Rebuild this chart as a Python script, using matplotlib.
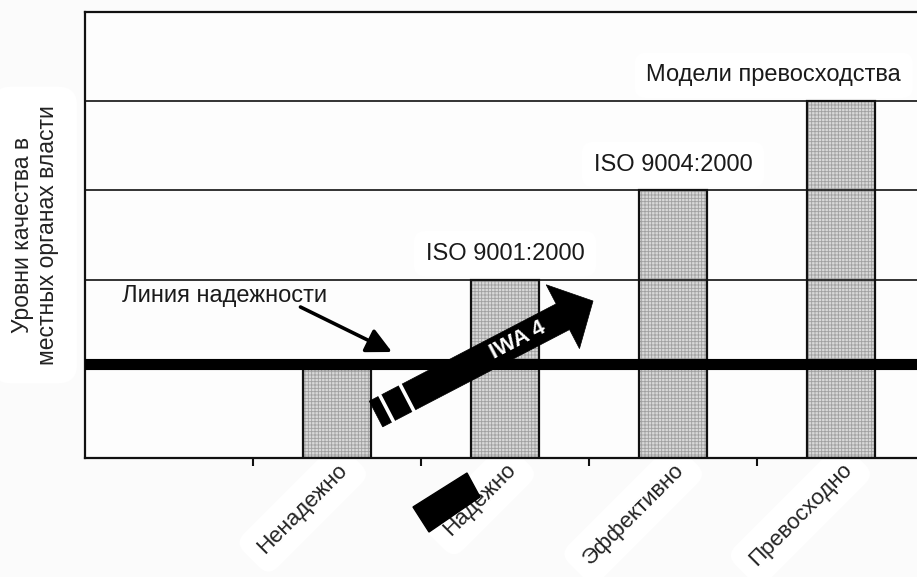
import numpy as np
import matplotlib
matplotlib.use('Agg')
import matplotlib.pyplot as plt
from matplotlib.patches import Polygon
from matplotlib.transforms import Affine2D

# data
categories = ['Ненадежно', 'Надежно', 'Эффективно', 'Превосходно']
levels = [1, 2, 3, 4]
level_labels = ['', 'ISO 9001:2000', 'ISO 9004:2000', 'Модели превосходства']
reliability_level = 1.05
y_max = 5
ylabel = 'Уровни качества в\nместных органах власти'

plt.rcParams['font.family'] = ['Liberation Sans', 'DejaVu Sans']
plt.rcParams['hatch.linewidth'] = 0.6

W, H = 917, 577
fig = plt.figure(figsize=(W / 100, H / 100), dpi=100, facecolor='#fbfbfb')
ax = fig.add_axes([85 / W, (H - 458) / H, 840 / W, 446 / H])
ax.set_facecolor('#fdfdfd')

# pixel coords from top-left, for the decorations
pix = Affine2D().scale(1 / 100, -1 / 100).translate(0, H / 100) + fig.dpi_scale_trans

blob = dict(boxstyle='round,pad=0.6', fc='white', ec='none')

x = np.arange(1, len(categories) + 1)
bar_w = 0.41
ax.bar(x, levels, width=bar_w, color='#d8d8d8', edgecolor='#a0a0a0', hatch='+++++',
       linewidth=0, zorder=2)
ax.bar(x, levels, width=bar_w, fill=False, edgecolor='#111111', linewidth=1.6, zorder=3)

# horizontal level lines
for yv in range(1, y_max):
    ax.axhline(yv, color='#111111', linewidth=1.2, zorder=3)

# reliability line
ax.axhline(reliability_level, color='black', linewidth=8, zorder=4)

ax.set_xlim(-0.5, len(categories) + 0.5)
ax.set_ylim(0, y_max)
ax.set_yticks([])
ax.set_xticks(np.arange(len(categories)) + 0.5)
ax.set_xticklabels([])
ax.tick_params(axis='x', which='major', direction='out', length=6, width=1.5, color='#111111')
ax.set_xticks(x, minor=True)
ax.set_xticklabels(categories, minor=True, fontsize=16, color='#222222')
ax.tick_params(axis='x', which='minor', length=0, pad=1)
for lab in ax.get_xticklabels(minor=True):
    lab.set_rotation(45)
    lab.set_ha('right')
    lab.set_rotation_mode('anchor')
    lab.set_bbox(blob)

for sp in ax.spines.values():
    sp.set_linewidth(1.6)
    sp.set_color('#111111')
ax.spines['right'].set_visible(False)

ax.set_ylabel(ylabel, fontsize=16.5, color='#222222', labelpad=19, linespacing=1.1,
              bbox=dict(boxstyle='round,pad=0.8', fc='white', ec='none'))

# level labels above bars
for xi, yv, txt in zip(x, levels, level_labels):
    if not txt:
        continue
    xt = xi if xi < len(categories) else xi - 0.4
    ax.text(xt, yv + 0.29, txt, ha='center', va='center', fontsize=17, color='#1a1a1a',
            zorder=5, bbox=dict(boxstyle='round,pad=0.5', fc='white', ec='none'))

# reliability line label and arrow
ax.annotate('Линия надежности', xy=(392, 352), xycoords=pix,
            xytext=(122, 296), textcoords=pix, ha='left', va='center',
            fontsize=17, color='#1a1a1a', zorder=6,
            arrowprops=dict(arrowstyle='-|>,head_length=0.9,head_width=0.45', lw=2.6,
                            color='black', shrinkA=0, shrinkB=0,
                            relpos=(0.87, 0.0), patchA=None))

# IWA 4 arrow (pixel geometry)
T = np.array([376.0, 414.0])
P = np.array([593.0, 301.0])
u = (P - T) / np.linalg.norm(P - T)
n = np.array([-u[1], u[0]])
w, hw, hl = 14.5, 36.0, 34.0
B = P - u * hl
pts = [T + n * w, B + n * w, B + n * hw, P, B - n * hw, B - n * w, T - n * w]
fig.patches.append(Polygon(pts, closed=True, transform=pix, fc='black', ec='black',
                           lw=0.5, zorder=10, figure=fig))
for s in (12.0, 35.0):
    a = T + u * s + n * w
    b = T + u * s - n * w
    fig.add_artist(plt.Line2D([a[0], b[0]], [a[1], b[1]], transform=pix,
                              color='white', lw=2.6, zorder=11))
c = T + u * 160
ang = np.degrees(np.arctan2(-u[1], u[0]))
fig.text(c[0], c[1], 'IWA 4', transform=pix, rotation=ang, rotation_mode='anchor',
         ha='center', va='center', fontsize=16, fontweight='bold', color='white', zorder=12)

# black block under the axis
blk = [(413, 507), (467, 473), (480, 497), (429, 532)]
fig.patches.append(Polygon(blk, closed=True, transform=pix, fc='black', ec='black',
                           zorder=10, figure=fig))

fig.savefig('out.png', dpi=100, facecolor=fig.get_facecolor())
